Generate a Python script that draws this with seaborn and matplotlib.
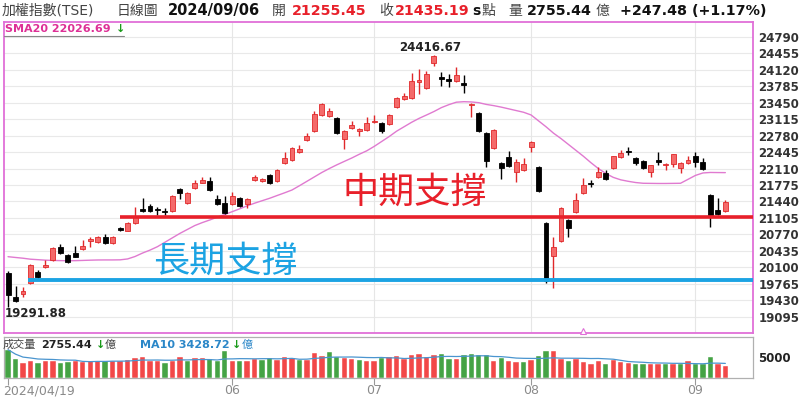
import matplotlib
matplotlib.use('Agg')
import numpy as np
import pandas as pd
import matplotlib.pyplot as plt
import seaborn as sns

# daily candles, 2024/04/19 .. 2024/09/06
opens = [19990, 19490, 19551, 19787, 20004, 20100, 20249, 20513, 20344, 20397,
         20479, 20642, 20621, 20723, 20589, 20906, 20845, 21008, 21290, 21354,
         21290, 21245, 21252, 21688, 21415, 21720, 21822, 21862, 21484, 21415,
         21388, 21516, 21382, 21877, 21856, 21978, 21856, 22229, 22284, 22440,
         22691, 22874, 23199, 23179, 23132, 22705, 22935, 22868, 22894, 23057,
         23030, 23016, 23368, 23525, 23539, 23870, 23743, 24252, 23967, 23938,
         23885, 23857, 23393, 23246, 22827, 22522, 22217, 22335, 22046, 22086,
         22555, 22147, 20996, 20330, 20641, 21063, 21225, 21606, 21822, 21944,
         22025, 22127, 22345, 22473, 22330, 22257, 22033, 22275, 22190, 22208,
         22121, 22229, 22357, 22243, 21571, 21270, 21255.45]
highs = [20025, 19720, 19705, 20167, 20040, 20249, 20520, 20574, 20370, 20533,
         20656, 20711, 20735, 20778, 20744, 20930, 21020, 21327, 21520, 21380,
         21333, 21307, 21580, 21710, 21633, 21877, 21944, 21931, 21571, 21551,
         21633, 21540, 21505, 21978, 21910, 22000, 22100, 22452, 22545, 22589,
         22833, 23287, 23438, 23336, 23160, 22900, 23083, 22940, 23153, 23199,
         23050, 23215, 23570, 23653, 24048, 24136, 24095, 24416.67, 24068, 24034,
         24182, 24013, 23438, 23270, 22850, 22905, 22240, 22473, 22304, 22318,
         22680, 22170, 21020, 20723, 21320, 21085, 21618, 21911, 21877, 22147,
         22080, 22375, 22487, 22542, 22350, 22280, 22190, 22453, 22225, 22415,
         22245, 22365, 22446, 22325, 21590, 21504, 21470]
lows = [19291.88, 19394, 19502, 19760, 19870, 20080, 20230, 20380, 20190, 20300,
        20460, 20507, 20600, 20570, 20570, 20840, 20830, 20990, 21230, 21230,
        21155, 21165, 21230, 21490, 21388, 21700, 21810, 21655, 21360, 21180,
        21370, 21325, 21307, 21860, 21840, 21790, 21840, 22210, 22265, 22425,
        22670, 22855, 23180, 23153, 22810, 22501, 22908, 22778, 22875, 23030,
        22827, 23000, 23350, 23505, 23525, 23627, 23720, 24197, 23790, 23775,
        23870, 23653, 23159, 22860, 22135, 22500, 21891, 22135, 21842, 22065,
        22453, 21625, 19775, 19673, 20620, 20723, 21205, 21590, 21734, 21925,
        21880, 22110, 22325, 22385, 22182, 22094, 21944, 22182, 22080, 22147,
        22019, 22210, 22141, 22075, 20926, 21165, 21225]
closes = [19527, 19420, 19618, 20141, 19897, 20141, 20493, 20397, 20214, 20316,
          20533, 20670, 20711, 20589, 20711, 20859, 20996, 21118, 21250, 21252,
          21270, 21235, 21557, 21618, 21606, 21822, 21877, 21673, 21382, 21199,
          21557, 21347, 21484, 21931, 21890, 21809, 22080, 22318, 22530, 22510,
          22772, 23220, 23417, 23281, 22827, 22880, 23002, 22921, 23043, 23083,
          22874, 23193, 23551, 23586, 23897, 23912, 24034, 24400, 23926, 23897,
          24020, 23804, 23425, 22880, 22263, 22887, 22125, 22155, 22243, 22208,
          22657, 21647, 19830, 20519, 21301, 20894, 21470, 21775, 21795, 22046,
          21897, 22355, 22420, 22446, 22229, 22127, 22172, 22250, 22210, 22396,
          22223, 22284, 22243, 22094, 21164, 21187.71, 21435.19]
prev_close = 20301

sma20 = [20316, 20300, 20285, 20265, 20255, 20245, 20240, 20236, 20234, 20235,
         20240, 20245, 20249, 20250, 20250, 20252, 20270, 20320, 20390, 20450,
         20520, 20610, 20700, 20790, 20870, 20950, 21010, 21063, 21120, 21175,
         21232, 21290, 21350, 21405, 21455, 21504, 21560, 21615, 21673, 21760,
         21850, 21940, 22030, 22110, 22185, 22255, 22324, 22400, 22470, 22560,
         22660, 22760, 22870, 22960, 23050, 23130, 23199, 23270, 23350, 23410,
         23460, 23470, 23465, 23450, 23415, 23390, 23360, 23325, 23290, 23255,
         23200, 23080, 22960, 22830, 22720, 22600, 22480, 22360, 22230, 22110,
         22010, 21930, 21880, 21850, 21825, 21810, 21808, 21806, 21806, 21808,
         21810, 21890, 21970, 22020, 22030, 22028, 22026.69]

# volume in 億
volumes = [6720, 4590, 3560, 4120, 3530, 4120, 4120, 3530, 3840, 4120,
           3840, 4000, 4120, 4120, 4120, 4120, 4360, 4730, 5070, 4000,
           4000, 3530, 4120, 4900, 4000, 4730, 4730, 4570, 4120, 6480,
           4120, 4120, 4000, 4570, 4360, 4730, 4360, 4980, 4820, 4360,
           4360, 5920, 5130, 6080, 4900, 4730, 4570, 4360, 4120, 4120,
           4730, 4900, 5220, 4570, 5370, 5690, 5070, 5540, 5690, 4440,
           4440, 5370, 5690, 5370, 5370, 4000, 4730, 4000, 3840, 3840,
           4230, 5220, 6320, 6320, 4440, 4000, 4570, 3840, 3370, 4000,
           3370, 4280, 3690, 3530, 3370, 3210, 3370, 3370, 3210, 3370,
           3370, 4000, 3210, 3210, 4900, 3210, 2755.44]

price_ticks = [24790 - 335 * k for k in range(18)]
month_pos = [0, 30, 49, 70, 92]
month_labels = ['2024/04/19', '06', '07', '08', '09']
mid_support = 21120
long_support = 19850

sns.set_style('white')
plt.rcParams['font.family'] = ['DejaVu Sans', 'Noto Sans CJK TC']

RED = '#e8202a'
C_UP_FACE = '#f46a6a'
C_UP_EDGE = '#e0282a'
V_RED = '#f24848'
V_GREEN = '#45a345'
PINK = '#e070d8'
ARROW_GREEN = '#1a9a1a'

df = pd.DataFrame({'open': opens, 'high': highs, 'low': lows, 'close': closes,
                   'vol': volumes, 'sma20': sma20})
df['i'] = np.arange(len(df))
df['up'] = df['close'] >= df['open']
df['chg'] = df['close'].diff().fillna(df['close'].iloc[0] - prev_close)
df['ma10'] = df['vol'].rolling(10, min_periods=1).mean()

W, H = 800, 400
fig = plt.figure(figsize=(8, 4), dpi=100)

def box(x0, y0, x1, y1):
    return [x0 / W, 1 - y1 / H, (x1 - x0) / W, (y1 - y0) / H]

ax = fig.add_axes(box(4, 22, 753, 333))
axv = fig.add_axes(box(4, 337, 753, 378))

# ---- price panel
ax.set_xlim(-0.54, 99.7)
ax.set_ylim(18763, 25092)
for t in price_ticks:
    ax.axhline(t, color='#e9e9e9', lw=0.8, zorder=0)
for p in month_pos[1:]:
    ax.axvline(p, color='#e6e6e6', lw=0.8, zorder=0)

sns.lineplot(x=df['i'], y=df['sma20'], ax=ax, color='#e07ad0', lw=1.0, zorder=2)

wick_col = [C_UP_EDGE if u else 'black' for u in df['up']]
ax.vlines(df['i'], df['low'], df['high'], colors=wick_col, lw=1.0, zorder=3)
body_lo = df[['open', 'close']].min(axis=1)
body_h = (df['close'] - df['open']).abs().clip(lower=18)
ax.bar(df['i'], body_h, bottom=body_lo, width=0.66,
       color=[C_UP_FACE if u else 'black' for u in df['up']],
       edgecolor=[C_UP_EDGE if u else 'black' for u in df['up']],
       linewidth=0.6, zorder=3)

ax.hlines(mid_support, 15, 99.7, color=RED, lw=2.6, zorder=4)
ax.hlines(long_support, 2.7, 99.7, color='#1ca3e3', lw=2.8, zorder=4)
ax.text(44.8, 21612, '中期支撐', color=RED, fontsize=26, va='center', ha='left',
        family=['Noto Sans CJK TC'], fontweight='light', zorder=5)
ax.text(19.4, 20208, '長期支撐', color='#1ca3e3', fontsize=26, va='center', ha='left',
        family=['Noto Sans CJK TC'], fontweight='light', zorder=5)

ax.text(56.5, 24583, '24416.67', fontsize=8.5, fontweight='bold', ha='center',
        va='center', color='#222')
ax.text(-0.4, 19170, '19291.88', fontsize=8.5, fontweight='bold', ha='left',
        va='center', color='#222')
ax.plot([77], [18800], marker='^', ms=5, mfc='white', mec=PINK, mew=0.8, zorder=6,
        clip_on=False)

ax.yaxis.tick_right()
ax.set_yticks(price_ticks)
ax.set_yticklabels([str(t) for t in price_ticks], fontsize=8.5, fontweight='bold',
                   color='#333')
ax.tick_params(axis='y', length=0, pad=4)
ax.set_xticks([])
ax.set_xlabel('')
ax.set_ylabel('')
for s in ax.spines.values():
    s.set_color(PINK)
    s.set_linewidth(1.3)

def ftext(x, y, s, **kw):
    fig.text(x / W, 1 - y / H, s, va='center', ha='left', **kw)

# SMA20 legend in the price panel
ftext(5, 29, 'SMA20 22026.69', fontsize=8, fontweight='bold', color='#dd3096')
ftext(116, 29, '↓', fontsize=8, fontweight='bold', color=ARROW_GREEN)
fig.add_artist(plt.Line2D([4 / W, 124 / W], [1 - 36 / H, 1 - 36 / H],
                          color='#888', lw=0.8))

# ---- volume panel
axv.set_xlim(-0.54, 99.7)
axv.set_ylim(0, 9720)
vcol = [V_RED if c >= 0 else V_GREEN for c in df['chg']]
axv.bar(df['i'], df['vol'], width=0.72, color=vcol, edgecolor='white', linewidth=0.3)
sns.lineplot(x=df['i'], y=df['ma10'], ax=axv, color='#4a95cf', lw=0.9)
axv.yaxis.tick_right()
axv.set_yticks([5000])
axv.set_yticklabels(['5000'], fontsize=8.5, fontweight='bold', color='#222')
axv.tick_params(axis='y', length=0, pad=4)
axv.set_xticks(month_pos)
axv.set_xticklabels([])
axv.tick_params(axis='x', length=5, color='#999', width=0.8, direction='out', bottom=True)
axv.set_xlabel('')
axv.set_ylabel('')
for s in axv.spines.values():
    s.set_color('#b0b0b0')
    s.set_linewidth(0.9)

# bottom date labels
for p, lab in zip(month_pos, month_labels):
    xp = 8 + 7.47 * p
    if p == 0:
        ftext(3, 391, lab, fontsize=9, color='#8a8a8a')
    else:
        fig.text(xp / W, 1 - 391 / H, lab, fontsize=9, color='#8a8a8a',
                 ha='center', va='center')

# volume header
ftext(3, 345, '成交量', fontsize=8, color='#444')
ftext(41, 345, '2755.44', fontsize=8, fontweight='bold', color='#222')
ftext(96, 345, '↓', fontsize=8, fontweight='bold', color=ARROW_GREEN)
ftext(105, 345, '億', fontsize=8, color='#444')
ftext(140, 345, 'MA10 3428.72', fontsize=8, fontweight='bold', color='#2b87c8')
ftext(232, 345, '↓', fontsize=8, fontweight='bold', color=ARROW_GREEN)
ftext(242, 345, '億', fontsize=8, color='#2b87c8')

# top header
ftext(2, 11, '加權指數(TSE)', fontsize=10, color='#444')
ftext(117, 11, '日線圖', fontsize=10, color='#444')
ftext(168, 11, '2024/09/06', fontsize=10.5, fontweight='bold', color='#111')
ftext(272, 11, '開', fontsize=10, color='#444')
ftext(292, 11, '21255.45', fontsize=10.3, fontweight='bold', color=RED)
ftext(379, 11, '收', fontsize=10, color='#444')
ftext(395, 11, '21435.19', fontsize=10.3, fontweight='bold', color=RED)
ftext(472, 11, 's', fontsize=10, fontweight='bold', color='#111')
ftext(482, 11, '點', fontsize=10, color='#444')
ftext(508, 11, '量', fontsize=10, color='#444')
ftext(527, 11, '2755.44', fontsize=10.3, fontweight='bold', color='#111')
ftext(596, 11, '億', fontsize=10, color='#444')
ftext(620, 11, '+247.48 (+1.17%)', fontsize=10.3, fontweight='bold', color='#111')

fig.savefig('out.png', dpi=100, facecolor='white')
